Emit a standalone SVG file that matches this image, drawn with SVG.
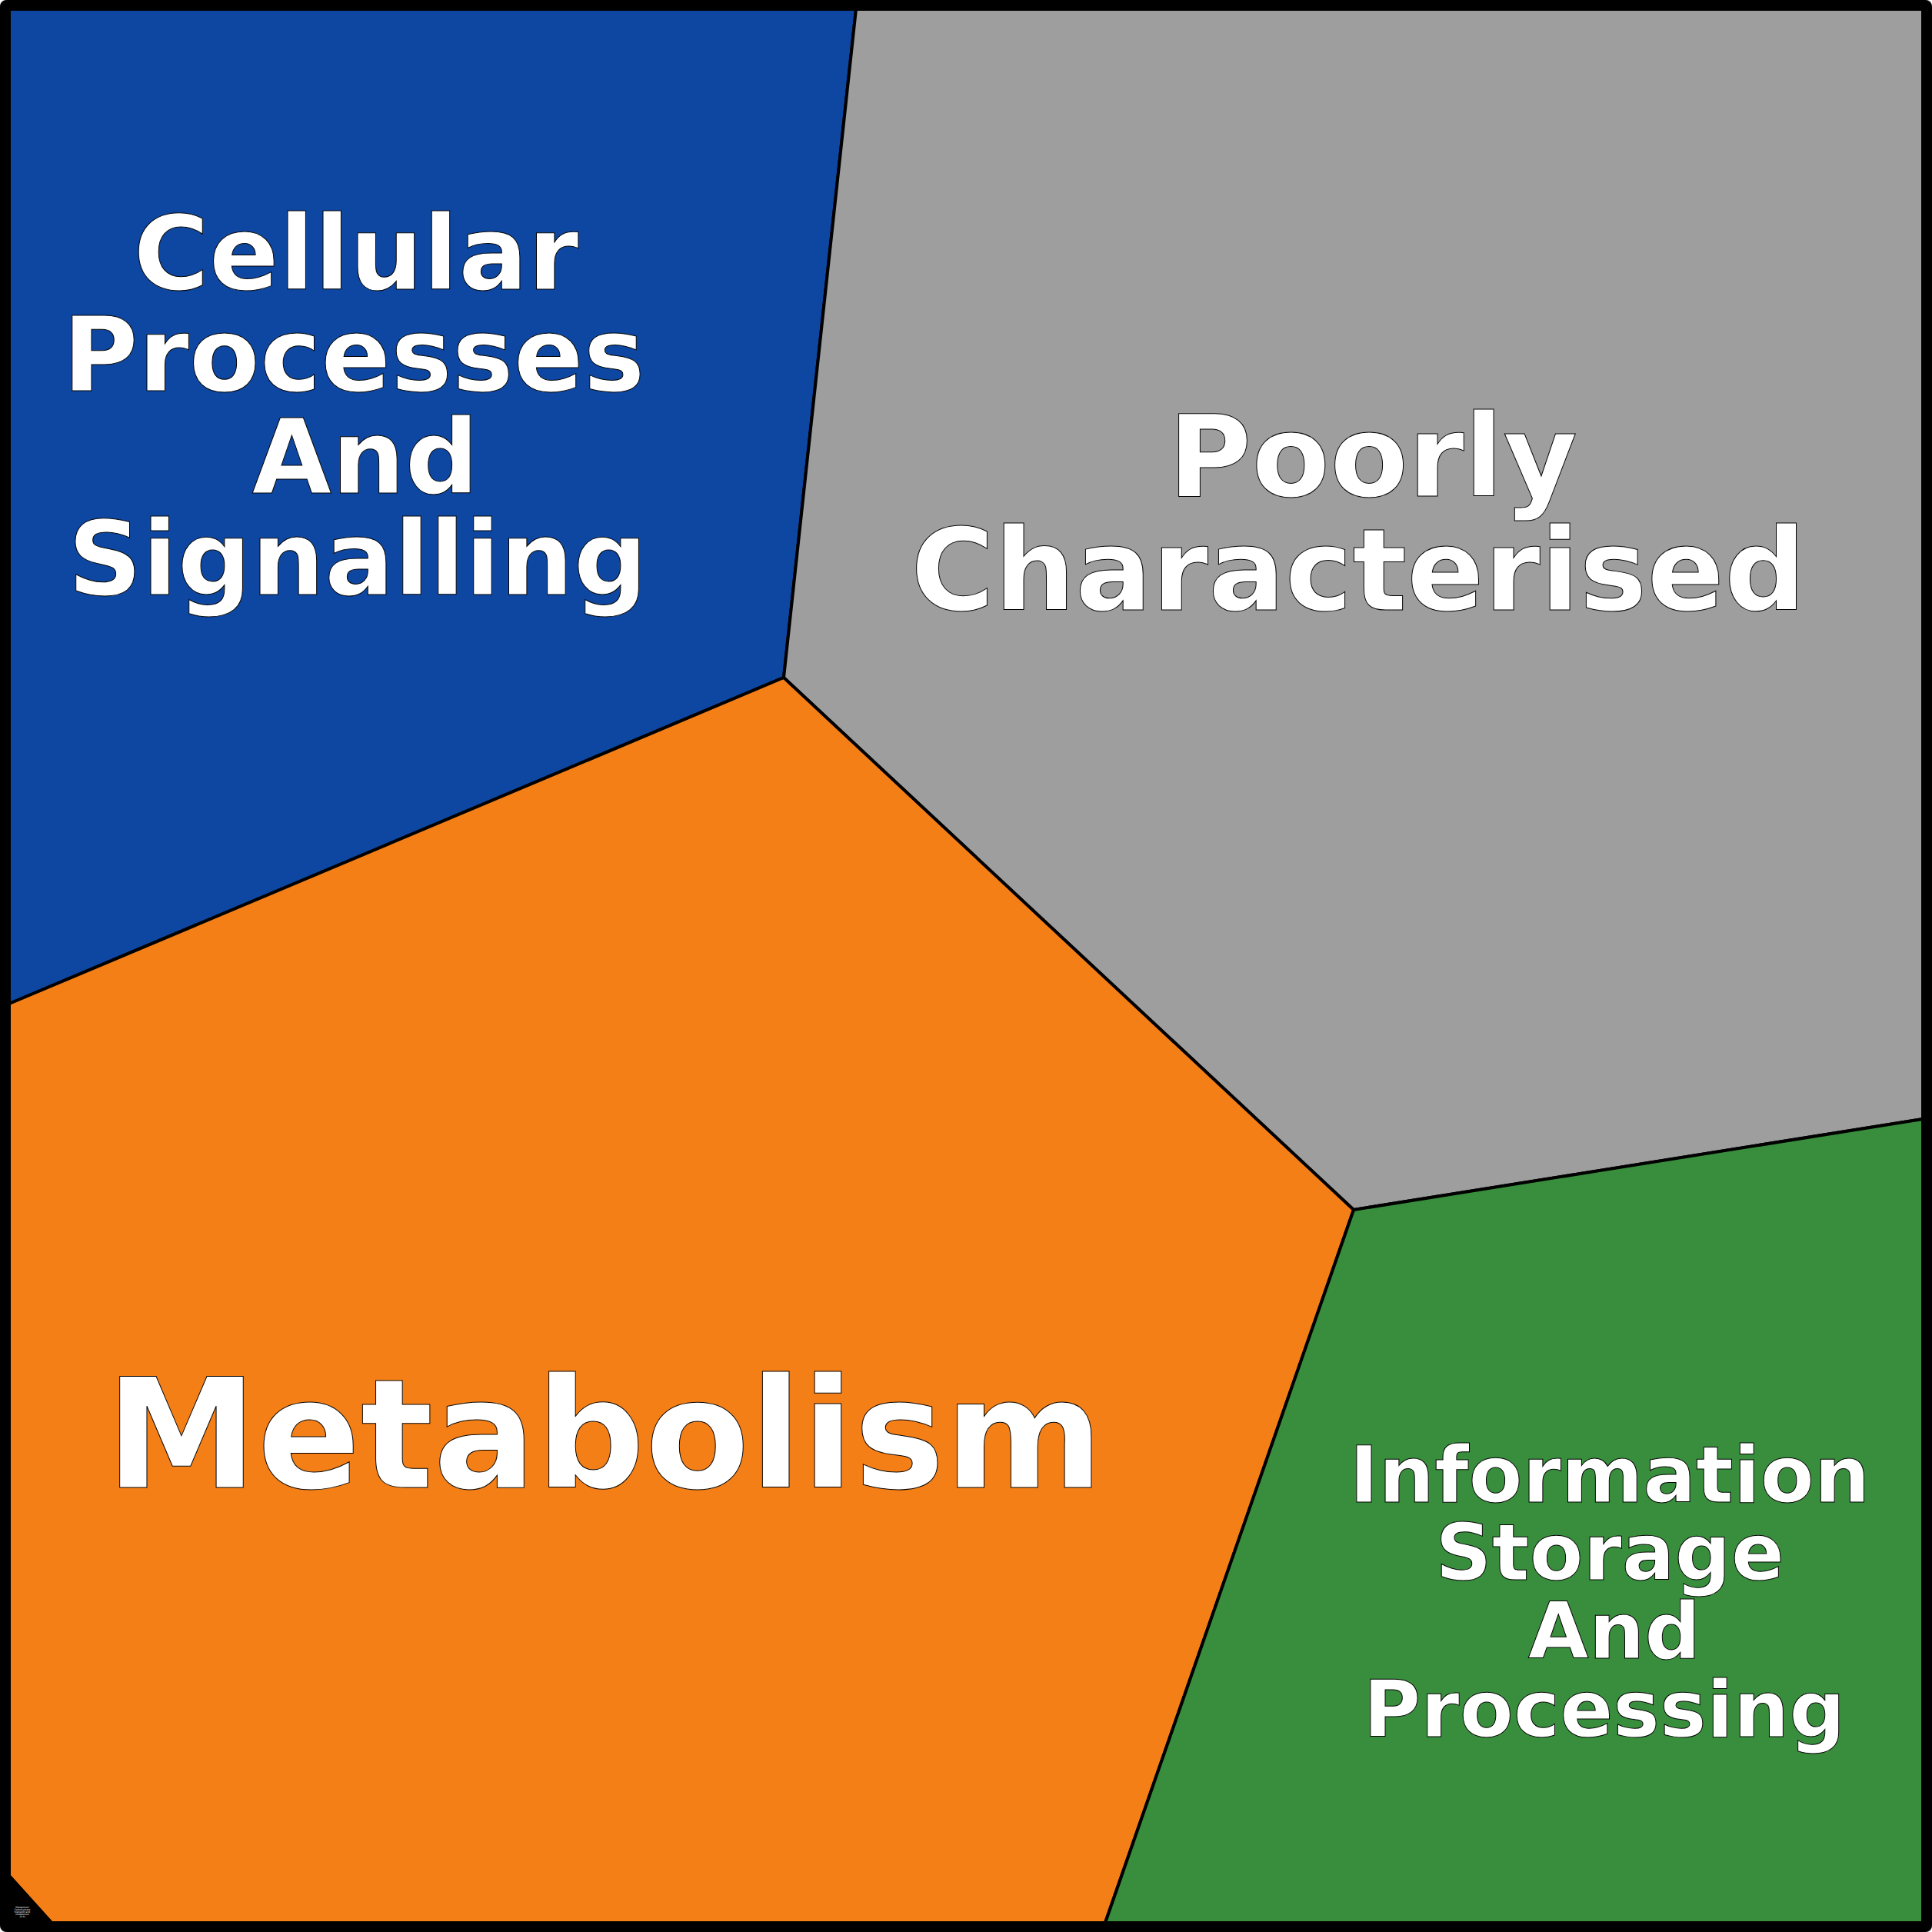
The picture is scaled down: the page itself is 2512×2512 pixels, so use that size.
<svg xmlns="http://www.w3.org/2000/svg" width="2512" height="2512" viewBox="0 0 2512 2512">
<style>
.cell{stroke:#000;stroke-width:4;stroke-linejoin:round}
.lbl{font-family:"DejaVu Sans","Liberation Sans",sans-serif;font-weight:bold;fill:#fff;stroke:#000;stroke-width:1;text-anchor:middle}
.tiny{font-family:"DejaVu Sans","Liberation Sans",sans-serif;font-size:3px;fill:#fff;text-anchor:middle}
</style>
<rect x="0" y="0" width="2512" height="2512" rx="8" fill="#1c1c1c"/>
<rect x="2" y="2" width="2508" height="2508" rx="6" fill="#000"/>
<g id="cellular">
<polygon class="cell" fill="#0E47A1" points="12,12 1113,12 1019,881 12,1305"/>
<text class="lbl" font-size="134"><tspan x="463" y="376">Cellular</tspan><tspan x="460" y="508">Processes</tspan><tspan x="475" y="641">And</tspan><tspan x="465" y="773">Signalling</tspan></text>
</g>
<g id="poorly">
<polygon class="cell" fill="#9E9E9E" points="1113,12 2500,12 2500,1455 1760,1573 1019,881"/>
<text class="lbl" font-size="148"><tspan x="1785" y="645">Poorly</tspan><tspan x="1766" y="793">Characterised</tspan></text>
</g>
<g id="metabolism">
<polygon class="cell" fill="#F57F17" points="12,1305 1019,881 1760,1573 1437,2500 67,2500 12,2439"/>
<text class="lbl" font-size="198" x="786" y="1934">Metabolism</text>
</g>
<g id="information">
<polygon class="cell" fill="#388E3C" points="1760,1573 2500,1455 2500,2500 1437,2500"/>
<text class="lbl" font-size="102"><tspan x="2093" y="1953">Information</tspan><tspan x="2093" y="2054">Storage</tspan><tspan x="2099" y="2156">And</tspan><tspan x="2086" y="2258">Processing</tspan></text>
</g>
<g id="carbohydrate">
<polygon class="cell" fill="#000" points="12,2439 67,2500 12,2500"/>
<text class="tiny"><tspan x="29" y="2481">Metabolism</tspan><tspan x="29" y="2484">Carbohydrate</tspan><tspan x="29" y="2487">transport and</tspan><tspan x="29" y="2490">metabolism</tspan><tspan x="29" y="2493">(0.0)</tspan></text>
</g>
<rect x="6" y="6" width="2500" height="2500" rx="4" fill="none" stroke="#000" stroke-width="12"/>
</svg>
